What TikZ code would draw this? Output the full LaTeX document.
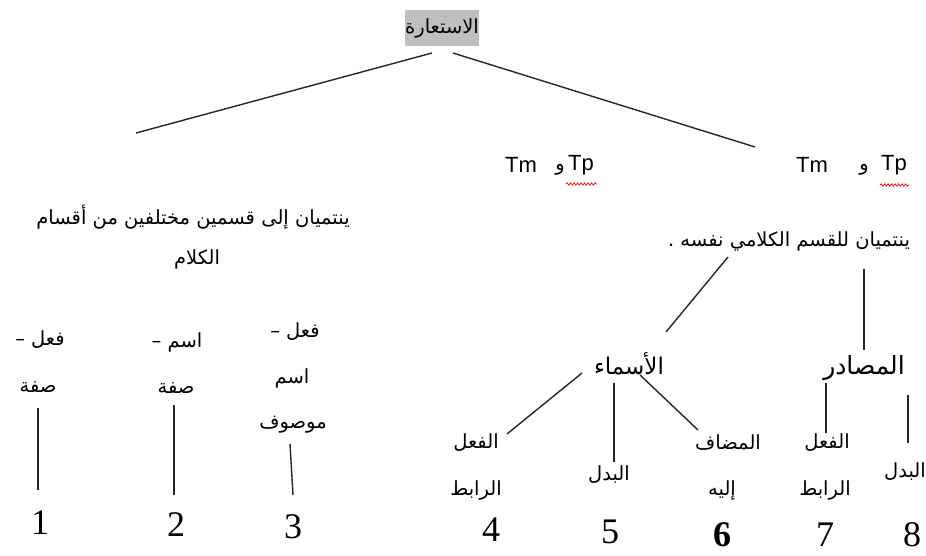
\documentclass[tikz,border=0pt]{standalone}
\usepackage{fontspec}
\TeXXeTstate=1
\newfontfamily\arabicfont[Script=Arabic]{DejaVu Sans}
\newfontfamily\latinsans{Liberation Sans}
\newfontfamily\latinserif{Liberation Serif}
\usetikzlibrary{decorations.pathmorphing}
\tikzset{
  ar/.style={inner sep=0pt, font=\arabicfont\fontsize{19.5}{22}\selectfont},
  arbig/.style={inner sep=0pt, font=\arabicfont\fontsize{23}{26}\selectfont},
  lat/.style={inner sep=0pt, font=\latinsans\fontsize{22}{26}\selectfont},
  num/.style={inner sep=0pt, font=\latinserif\fontsize{36}{40}\selectfont},
  link/.style={line width=1.4pt, black!85},
  wavy/.style={red, line width=0.7pt, decorate, decoration={snake, amplitude=1.2pt, segment length=3.5pt}}
}
\newcommand{\AR}[1]{\beginR #1\endR}
\begin{document}
\begin{tikzpicture}[x=1pt,y=-1pt]
\useasboundingbox (0,0) rectangle (926,556);
% root
\node[ar, fill=black!25, minimum width=73pt, minimum height=36pt] (root) at (442,28) {\AR{الاستعارة}};
\coordinate (rl) at (432,53);
\coordinate (rr) at (453,53);
\coordinate (ll) at (136,133);
\coordinate (rrr) at (755,147);
\draw[link] (rl) -- (ll);
\draw[link] (rr) -- (rrr);
% Tm / Tp labels
\node[lat] (tmL) at (521,165) {Tm};
\node[ar] (waL) at (560,170) {\AR{و}};
\node[lat] (tpL) at (581,165) {Tp};
\node[lat] (tmR) at (812,165) {Tm};
\node[ar] (waR) at (864,170) {\AR{و}};
\node[lat] (tpR) at (894,165) {Tp};
\coordinate (wl1) at (566,184);
\coordinate (wl2) at (597,184);
\coordinate (wr1) at (880,185);
\coordinate (wr2) at (909,185);
\draw[wavy] (wl1) -- (wl2);
\draw[wavy] (wr1) -- (wr2);
% left description
\node[ar] (leftdesc) at (193,217) {\AR{ينتميان إلى  قسمين مختلفين من أقسام}};
\node[ar] (leftdesc2) at (197,259) {\AR{الكلام}};
% right description
\node[ar] (rightdesc) at (789,241) {\AR{ينتميان للقسم الكلامي نفسه .}};
\coordinate (rd1) at (728,257);
\coordinate (rd2) at (864,269);
% categories
\node[arbig] (asma) at (629,364) {\AR{الأسماء}};
\node[arbig, font=\arabicfont\fontsize{25}{28}\selectfont] (masadir) at (864,368) {\AR{المصادر}};
\coordinate (asmaT) at (666,332);
\coordinate (masT) at (864,350);
\draw[link] (rd1) -- (asmaT);
\draw[link] (rd2) -- (masT);
% left leaves
\node[ar] (f1) at (40,340) {\AR{فعل –}};
\node[ar] (s1) at (38,387) {\AR{صفة}};
\coordinate (l1a) at (38,408);
\coordinate (l1b) at (38,490);
\draw[link] (l1a) -- (l1b);
\node[num] (n1) at (40,523) {1};
\node[ar] (f2) at (177,342) {\AR{اسم –}};
\node[ar] (s2) at (176,388) {\AR{صفة}};
\coordinate (l2a) at (174,405);
\coordinate (l2b) at (174,495);
\draw[link] (l2a) -- (l2b);
\node[num] (n2) at (176,525) {2};
\node[ar] (f3) at (295,332) {\AR{فعل –}};
\node[ar] (s3) at (292,378) {\AR{اسم}};
\node[ar] (m3) at (293,425) {\AR{موصوف}};
\coordinate (l3a) at (290,444);
\coordinate (l3b) at (293,495);
\draw[link] (l3a) -- (l3b);
\node[num] (n3) at (293,527) {3};
% asma leaves
\node[ar] (a4) at (476,443) {\AR{الفعل}};
\node[ar] (b4) at (476,490) {\AR{الرابط}};
\node[num] (n4) at (491,530) {4};
\node[ar] (a5) at (609,475) {\AR{البدل}};
\node[num] (n5) at (610,532) {5};
\node[ar] (a6) at (728,443) {\AR{المضاف}};
\node[ar] (b6) at (722,490) {\AR{إليه}};
\node[num, font=\latinserif\bfseries\fontsize{36}{40}\selectfont] (n6) at (722,535) {6};
\coordinate (as1) at (582,373);
\coordinate (as1e) at (507,434);
\coordinate (as2) at (614,383);
\coordinate (as2e) at (614,462);
\coordinate (as3) at (640,375);
\coordinate (as3e) at (698,430);
\draw[link] (as1) -- (as1e);
\draw[link] (as2) -- (as2e);
\draw[link] (as3) -- (as3e);
% masadir leaves
\node[ar] (a7) at (827,443) {\AR{الفعل}};
\node[ar] (b7) at (825,490) {\AR{الرابط}};
\node[num] (n7) at (825,535) {7};
\node[ar] (a8) at (905,472) {\AR{البدل}};
\node[num] (n8) at (912,535) {8};
\coordinate (ms1) at (826,383);
\coordinate (ms1e) at (826,433);
\coordinate (ms2) at (908,395);
\coordinate (ms2e) at (908,443);
\draw[link] (ms1) -- (ms1e);
\draw[link] (ms2) -- (ms2e);
\end{tikzpicture}
\end{document}
